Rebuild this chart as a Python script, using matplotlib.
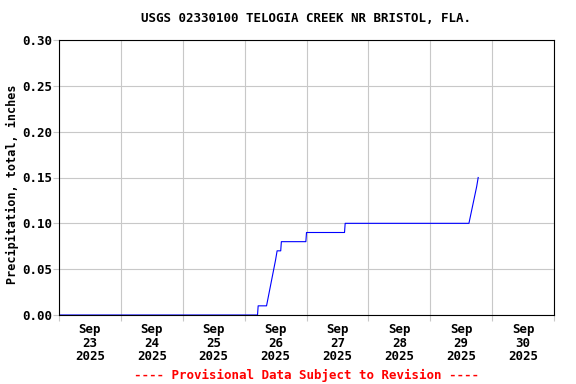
import numpy as np
import matplotlib
matplotlib.use("Agg")
import matplotlib.pyplot as plt
import matplotlib.dates as mdates
from datetime import datetime, timedelta

# hours after 2025-09-23 00:00, cumulative precipitation (inches)
hours = [0, 77.0, 77.25, 80.5, 81.2, 81.9, 82.6, 83.3, 84.0, 84.6, 86.0, 86.25,
         95.75, 96.0, 110.75, 111.0, 159.0, 159.75, 160.5, 161.25, 162.0, 162.6]
precip = [0.00, 0.00, 0.01, 0.01, 0.02, 0.03, 0.04, 0.05, 0.06, 0.07, 0.07, 0.08,
          0.08, 0.09, 0.09, 0.10, 0.10, 0.11, 0.12, 0.13, 0.14, 0.15]

start = datetime(2025, 9, 23)
days = [start + timedelta(days=i) for i in range(9)]
day_labels = ["Sep\n%d\n2025" % d.day for d in days[:-1]]
yticks = [0.00, 0.05, 0.10, 0.15, 0.20, 0.25, 0.30]

t = [start + timedelta(hours=h) for h in hours]

plt.rcParams['font.family'] = 'DejaVu Sans Mono'
plt.rcParams['font.weight'] = 'bold'

fig = plt.figure(figsize=(5.76, 3.84), dpi=100)
ax = fig.add_axes([59/576, 1-315/384, 495/576, 275/384])

ax.plot(t, precip, color='#0000ff', linewidth=0.8)

ax.set_xlim(days[0], days[-1])
ax.set_ylim(0, 0.30)
ax.set_xticks(days)
ax.set_xticklabels([])
ax.set_xticks([d + timedelta(hours=12) for d in days[:-1]], minor=True)
ax.set_xticklabels(day_labels, minor=True, fontsize=9, fontweight='bold',
                   linespacing=1.05)
ax.tick_params(axis='x', which='minor', length=0, pad=6)
ax.tick_params(axis='x', which='major', length=4, color='#c8c8c8')
ax.set_yticks(yticks)
ax.set_yticklabels(["%.2f" % v for v in yticks], fontsize=9, fontweight='bold')
ax.tick_params(axis='y', length=4, color='#c8c8c8', pad=1)
ax.grid(True, which='major', color='#c8c8c8', linewidth=0.8)
ax.set_axisbelow(True)
for s in ax.spines.values():
    s.set_linewidth(0.8)

fig.text(12/576, 1-184/384, "Precipitation, total, inches", rotation=90,
         ha='center', va='center', fontsize=8.5, fontweight='bold')
fig.text(306/576, 1-19/384, "USGS 02330100 TELOGIA CREEK NR BRISTOL, FLA.",
         ha='center', va='center', fontsize=9, fontweight='bold')
fig.text(306/576, 1-375/384, "---- Provisional Data Subject to Revision ----",
         ha='center', va='center', fontsize=9, fontweight='bold', color='red')

fig.savefig("out.png", dpi=100)
